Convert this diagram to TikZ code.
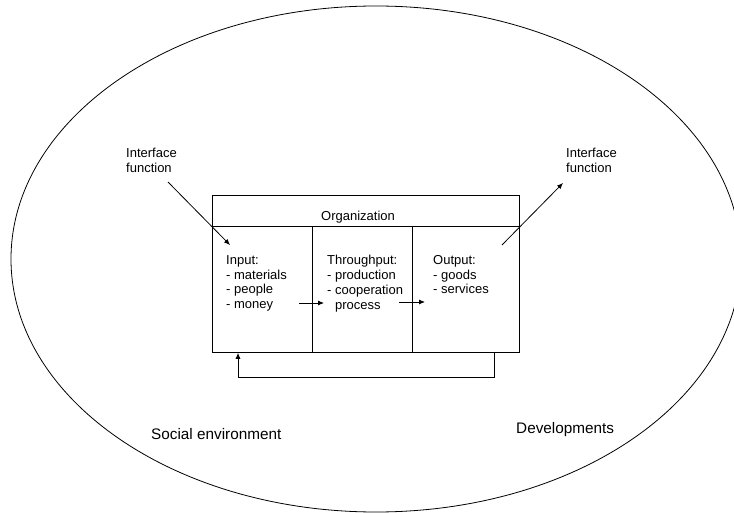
\documentclass[tikz,border=0pt]{standalone}
\usepackage{fontspec}
\setmainfont{Liberation Sans}
\usetikzlibrary{arrows.meta,shapes.geometric}
\begin{document}
\begin{tikzpicture}[x=1pt,y=-1pt,
  ln/.style={line width=0.8pt},
  arr/.style={ln,-{Latex[length=6pt,width=5pt]}},
  cell/.style={draw,ln,inner sep=0,anchor=north west},
  lbl/.style={inner sep=0,anchor=north west,align=left,font=\fontsize{13}{14.7}\selectfont},
  big/.style={inner sep=0,anchor=north west,font=\fontsize{15.3}{17}\selectfont}]
\clip (0,0) rectangle (734,513);
\node[draw,ln,ellipse,minimum width=730pt,minimum height=506pt,inner sep=0] (env) at (376,259) {};
% organization box
\node[cell,minimum width=307pt,minimum height=31pt] (org) at (212,195) {};
\node[cell,minimum width=100pt,minimum height=126pt] (in) at (212,226) {};
\node[cell,minimum width=100pt,minimum height=126pt] (thr) at (312,226) {};
\node[cell,minimum width=107pt,minimum height=126pt] (out) at (412,226) {};
% texts
\node[lbl] (orgt) at (321,210.7) {Organization};
\node[lbl] (int) at (226,255.3) {Input:\\- materials\\- people\\- money};
\node[lbl] (thrt) at (327,255.3) {Throughput:\\- production\\- cooperation\\\phantom{- }process};
\node[lbl] (outt) at (433,255.3) {Output:\\- goods\\- services};
\node[lbl] (ifl) at (126,148.3) {Interface\\function};
\node[lbl] (ifr) at (566,147.7) {Interface\\function};
\node[big] (soc) at (151,428.3) {Social environment};
\node[big] (dev) at (516,422.3) {Developments};
% arrows
\coordinate (a1s) at (299,303);
\coordinate (a1e) at (324,303);
\coordinate (a2s) at (399,302);
\coordinate (a2e) at (425,302);
\draw[arr] (a1s) -- (a1e);
\draw[arr] (a2s) -- (a2e);
\coordinate (fbR) at (494,377);
\coordinate (fbL) at (238,377);
\draw[arr] (out.south -| fbR) -- (fbR) -- (fbL) -- (in.south -| fbL);
\coordinate (ifLs) at (168,182);
\coordinate (ifLe) at (230,245);
\draw[arr] (ifLs) -- (ifLe);
\coordinate (ifRs) at (502,245);
\coordinate (ifRe) at (563,183);
\draw[arr] (ifRs) -- (ifRe);
\end{tikzpicture}
\end{document}
